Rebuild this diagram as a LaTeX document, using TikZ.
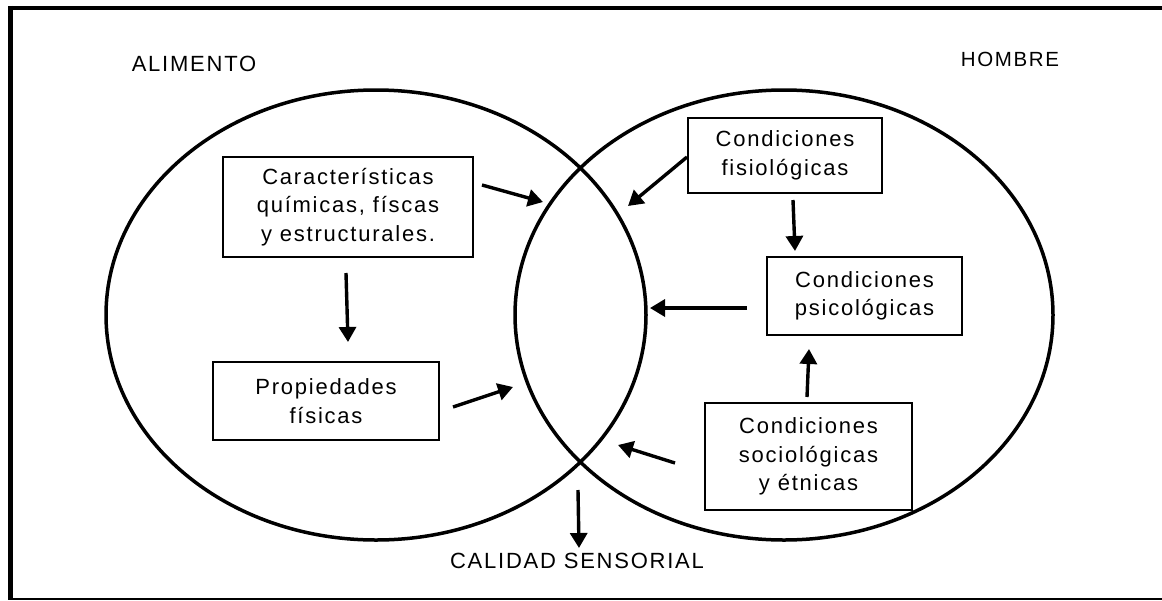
\documentclass[tikz,border=0pt]{standalone}
\usepackage{fontspec}
\setmainfont[LetterSpace=8]{Liberation Sans}
\usetikzlibrary{arrows.meta}
\tikzset{
  venn/.style={line width=3.5pt},
  box/.style={draw, line width=1.3pt, align=center, inner sep=0pt,
    font=\fontsize{22}{28.5}\selectfont},
  lbl/.style={font=\fontsize{22}{26}\selectfont, inner sep=0pt},
  arr/.style={line width=3.4pt, -{Triangle[length=15pt,width=17pt]}}
}
\begin{document}
\begin{tikzpicture}[x=1pt,y=-1pt]
\useasboundingbox (0,0) rectangle (1162,600);
% frame
\draw[line width=5pt] (10.8,5.8) -- (10.8,600);
\draw[line width=4.5pt] (8.3,8) -- (1162,8);
\draw[line width=1.6pt] (8.3,598.8) -- (1162,598.8);
% ellipses
\draw[venn] (376,315) ellipse [x radius=270, y radius=225];
\draw[venn] (784,315) ellipse [x radius=269, y radius=225];
% labels
\node[lbl] (alim) at (194,64) {ALIMENTO};
\node[lbl, font=\fontsize{20.5}{24}\selectfont] (hom) at (1010,59) {HOMBRE};
\node[lbl] (cal) at (577,561) {CALIDAD SENSORIAL};
% boxes
\node[box, minimum width=250pt, minimum height=100pt] (car) at (348,207)
  {Características\\químicas, físcas\\y estructurales.};
\node[box, minimum width=226pt, minimum height=78pt] (prop) at (326,401)
  {Propiedades\\físicas};
\node[box, minimum width=194pt, minimum height=75pt] (fis) at (785,155.5)
  {Condiciones\\fisiológicas};
\node[box, minimum width=195pt, minimum height=78pt] (psi) at (864.5,296)
  {Condiciones\\psicológicas};
\node[box, minimum width=207pt, minimum height=107pt] (soc) at (808.5,456.5)
  {Condiciones\\sociológicas\\y étnicas};
% arrow end points
\coordinate (c1s) at (482,185);   \coordinate (c1e) at (543,202);
\coordinate (c2s) at (346,273);   \coordinate (c2e) at (348,342);
\coordinate (c3s) at (453,407);   \coordinate (c3e) at (513,387);
\coordinate (f1s) at (687,157);   \coordinate (f1e) at (628,206);
\coordinate (f2s) at (793,200);   \coordinate (f2e) at (795,251);
\coordinate (p1s) at (747,308);   \coordinate (p1e) at (650,308);
\coordinate (s1s) at (807,397);   \coordinate (s1e) at (809,349);
\coordinate (s2s) at (675,463);   \coordinate (s2e) at (618,445);
\coordinate (b1s) at (578,490);   \coordinate (b1e) at (579,548);
% arrows
\draw[arr] (c1s) -- (c1e);
\draw[arr] (c2s) -- (c2e);
\draw[arr] (c3s) -- (c3e);
\draw[arr] (f1s) -- (f1e);
\draw[arr] (f2s) -- (f2e);
\draw[arr] (p1s) -- (p1e);
\draw[arr] (s1s) -- (s1e);
\draw[arr] (s2s) -- (s2e);
\draw[arr] (b1s) -- (b1e);
\end{tikzpicture}
\end{document}
